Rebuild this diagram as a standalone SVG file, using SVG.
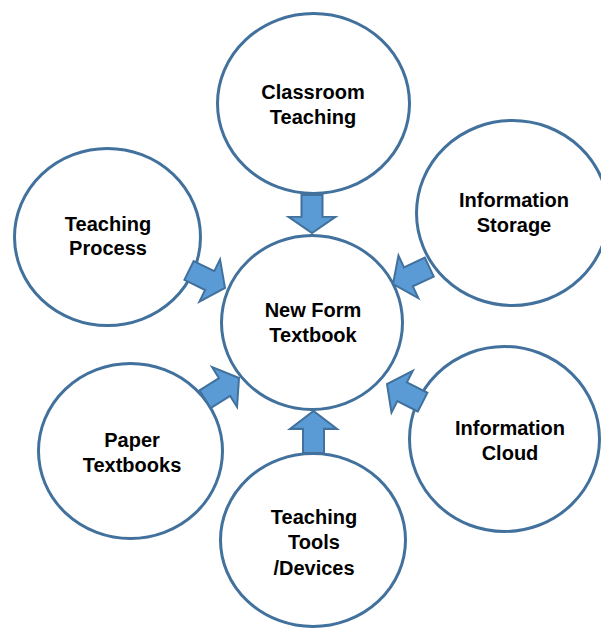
<svg xmlns="http://www.w3.org/2000/svg" xmlns:xlink="http://www.w3.org/1999/xlink" width="601" height="628" viewBox="0 0 601 628">
<style>
.node ellipse{fill:#fff;stroke:#41719c;stroke-width:3}
.node text{font-family:"Liberation Sans",Arial,sans-serif;font-weight:bold;font-size:20px;fill:#000;text-anchor:middle}
.arr{fill:#5b9bd5;stroke:#41719c;stroke-width:2;stroke-linejoin:miter}
</style>
<defs>
<path id="arrow" d="M-40,-10.5 L-17,-10.5 L-17,-23.5 L0,0 L-17,23.5 L-17,10.5 L-40,10.5 Z"/>
</defs>
<rect width="601" height="628" fill="#fff"/>
<g id="classroom" class="node"><ellipse cx="313.5" cy="103.5" rx="96" ry="90"/><text x="313" y="99">Classroom</text><text x="313" y="124">Teaching</text></g>
<g id="storage" class="node"><ellipse cx="512.5" cy="213" rx="96" ry="92.5"/><text x="514" y="207">Information</text><text x="514" y="231.5">Storage</text></g>
<g id="process" class="node"><ellipse cx="107.5" cy="237" rx="93" ry="88.5"/><text x="108" y="230.5">Teaching</text><text x="108" y="255">Process</text></g>
<g id="newform" class="node"><ellipse cx="312" cy="322.5" rx="90.5" ry="87"/><text x="313" y="317">New Form</text><text x="313" y="342">Textbook</text></g>
<g id="paper" class="node"><ellipse cx="130.5" cy="451" rx="92" ry="87.5"/><text x="132" y="447">Paper</text><text x="132" y="471.5">Textbooks</text></g>
<g id="cloud" class="node"><ellipse cx="504.5" cy="439" rx="95" ry="92.5"/><text x="510" y="434.5">Information</text><text x="510" y="459.5">Cloud</text></g>
<g id="tools" class="node"><ellipse cx="313" cy="540" rx="92.5" ry="86.5"/><text x="314" y="523.5">Teaching</text><text x="314" y="548.5">Tools</text><text x="314" y="574.5">/Devices</text></g>
<g id="connectors">
<use xlink:href="#arrow" class="arr" transform="translate(312,233) rotate(90) scale(0.95,1)"/>
<use xlink:href="#arrow" class="arr" transform="translate(313.5,411) rotate(-90) scale(1.05,1)"/>
<use xlink:href="#arrow" class="arr" transform="translate(225,288) rotate(26)"/>
<use xlink:href="#arrow" class="arr" transform="translate(239,378) rotate(-32)"/>
<use xlink:href="#arrow" class="arr" transform="translate(393,284) rotate(155)"/>
<use xlink:href="#arrow" class="arr" transform="translate(387,384) rotate(207)"/>
</g>
</svg>
